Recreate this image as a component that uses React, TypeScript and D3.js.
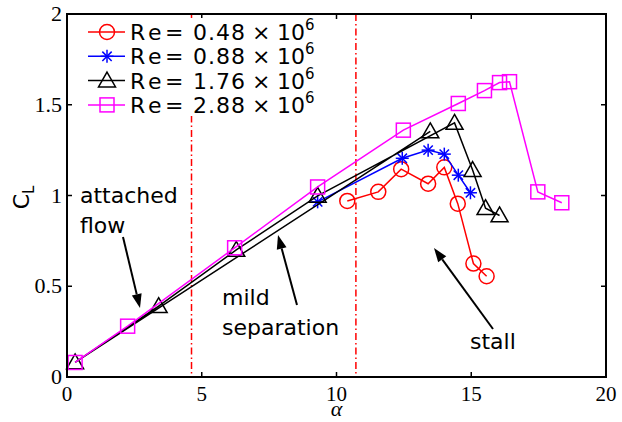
import React from "react";
import * as d3 from "d3";

// angle of attack (deg) and lift coefficient for each Reynolds number
const alphaRe048 = [10.4, 11.55, 12.4, 13.4, 14.0, 14.5, 15.08, 15.57];
const clRe048 = [0.97, 1.02, 1.145, 1.065, 1.155, 0.955, 0.625, 0.555];

const alphaRe088 = [9.3, 12.44, 13.4, 14.0, 14.52, 14.97];
const clRe088 = [0.965, 1.205, 1.25, 1.228, 1.112, 1.015];

// order as plotted (the first segment makes the lower straight line)
const alphaRe176 = [13.48, 0.3, 3.4, 6.28, 9.3, 14.38, 15.05, 15.53, 16.05];
const clRe176 = [1.353, 0.08, 0.39, 0.7, 0.998, 1.4, 1.14, 0.93, 0.89];

const alphaRe288 = [0.3, 2.25, 6.22, 9.3, 12.48, 14.52, 15.49, 16.05, 16.42, 17.47, 18.36];
const clRe288 = [0.08, 0.28, 0.712, 1.047, 1.36, 1.507, 1.578, 1.622, 1.627, 1.02, 0.96];

const reLabels = ["0.48", "0.88", "1.76", "2.88"];
const regimeBounds = [4.62, 10.72];
const xTicks = [0, 5, 10, 15, 20];
const yTicks = [0, 0.5, 1, 1.5, 2];
const yTickLabels = ["0", "0.5", "1", "1.5", "2"];

const W = 622;
const H = 422;
const margin = { top: 14, right: 16, bottom: 45, left: 67 };

const x = d3.scaleLinear().domain([0, 20]).range([margin.left, W - margin.right]);
const y = d3.scaleLinear().domain([0, 2]).range([H - margin.bottom, margin.top]);

const serif = "Liberation Serif, DejaVu Serif, serif";
const sans = "DejaVu Sans, sans-serif";

type Kind = "circle" | "star" | "tri" | "square";

const Marker: React.FC<{ kind: Kind; cx: number; cy: number; color: string }> = ({ kind, cx, cy, color }) => {
  const sw = 1.5;
  if (kind === "circle") return <circle cx={cx} cy={cy} r={7.5} fill="none" stroke={color} strokeWidth={sw} />;
  if (kind === "square")
    return <rect x={cx - 7} y={cy - 7} width={14} height={14} fill="none" stroke={color} strokeWidth={sw} />;
  if (kind === "tri") {
    const s = 8.5;
    const p = `${cx},${cy - s} ${cx + s},${cy + s * 0.75} ${cx - s},${cy + s * 0.75}`;
    return <polygon points={p} fill="none" stroke={color} strokeWidth={sw} />;
  }
  const r = 6.5;
  const d = r * 0.72;
  return (
    <g stroke={color} strokeWidth={sw}>
      <line x1={cx - r} y1={cy} x2={cx + r} y2={cy} />
      <line x1={cx} y1={cy - r} x2={cx} y2={cy + r} />
      <line x1={cx - d} y1={cy - d} x2={cx + d} y2={cy + d} />
      <line x1={cx - d} y1={cy + d} x2={cx + d} y2={cy - d} />
    </g>
  );
};

const series = [
  { a: alphaRe048, c: clRe048, color: "#ff0000", kind: "circle" as Kind },
  { a: alphaRe088, c: clRe088, color: "#0000ff", kind: "star" as Kind },
  { a: alphaRe176, c: clRe176, color: "#000000", kind: "tri" as Kind },
  { a: alphaRe288, c: clRe288, color: "#ff00ff", kind: "square" as Kind },
];

const line = d3
  .line<[number, number]>()
  .x((d) => x(d[0]))
  .y((d) => y(d[1]));

const Arrow: React.FC<{ x1: number; y1: number; x2: number; y2: number }> = ({ x1, y1, x2, y2 }) => {
  const ang = Math.atan2(y2 - y1, x2 - x1);
  const L = 14;
  const hw = 5;
  const bx = x2 - L * Math.cos(ang);
  const by = y2 - L * Math.sin(ang);
  const px = -Math.sin(ang) * hw;
  const py = Math.cos(ang) * hw;
  return (
    <g>
      <line x1={x1} y1={y1} x2={bx} y2={by} stroke="#000" strokeWidth={2} />
      <polygon points={`${x2},${y2} ${bx + px},${by + py} ${bx - px},${by - py}`} fill="#000" />
    </g>
  );
};

export default function App() {
  const x0 = margin.left;
  const x1 = W - margin.right;
  const y0 = H - margin.bottom;
  const y1 = margin.top;
  const tk = 5;
  return (
    <svg width={W} height={H} style={{ position: "absolute", left: 0, top: 0, background: "#fff" }}>
      <rect x={0} y={0} width={W} height={H} fill="#fff" />

      {/* regime boundaries */}
      {regimeBounds.map((b) => (
        <line key={b} x1={x(b)} x2={x(b)} y1={y1} y2={y0} stroke="#ff0000" strokeWidth={1.5} strokeDasharray="7,3,1.5,3" />
      ))}

      {/* data */}
      {series.map((s, i) => {
        const pts = s.a.map((a, j) => [a, s.c[j]] as [number, number]);
        return (
          <g key={i}>
            <path d={line(pts) || ""} fill="none" stroke={s.color} strokeWidth={1.5} />
            {pts.map((p, j) => (
              <Marker key={j} kind={s.kind} cx={x(p[0])} cy={y(p[1])} color={s.color} />
            ))}
          </g>
        );
      })}

      {/* axes box and ticks */}
      <rect x={x0} y={y1} width={x1 - x0} height={y0 - y1} fill="none" stroke="#000" strokeWidth={2} />
      {xTicks.map((t) => (
        <g key={"x" + t}>
          <line x1={x(t)} x2={x(t)} y1={y0} y2={y0 - tk} stroke="#000" strokeWidth={1.5} />
          <line x1={x(t)} x2={x(t)} y1={y1} y2={y1 + tk} stroke="#000" strokeWidth={1.5} />
          <text x={x(t)} y={y0 + 24} fontFamily={serif} fontSize={21} textAnchor="middle">
            {t}
          </text>
        </g>
      ))}
      {yTicks.map((t, i) => (
        <g key={"y" + t}>
          <line x1={x0} x2={x0 + tk} y1={y(t)} y2={y(t)} stroke="#000" strokeWidth={1.5} />
          <line x1={x1} x2={x1 - tk} y1={y(t)} y2={y(t)} stroke="#000" strokeWidth={1.5} />
          <text x={x0 - 5} y={y(t) + 7} fontFamily={serif} fontSize={22} textAnchor="end">
            {yTickLabels[i]}
          </text>
        </g>
      ))}

      {/* axis labels */}
      <text x={(x0 + x1) / 2} y={416} fontFamily={serif} fontStyle="italic" fontSize={22} textAnchor="middle">
        α
      </text>
      <g transform={`translate(29, ${(y0 + y1) / 2 + 2}) rotate(-90)`}>
        <text fontFamily={sans} fontSize={22} textAnchor="middle">
          C<tspan fontSize={15} dy={5}>L</tspan>
        </text>
      </g>

      {/* legend */}
      <rect x={78} y={18} width={240} height={98} fill="#fff" />
      {series.map((s, i) => {
        const ly = 32 + i * 24.3;
        return (
          <g key={"lg" + i}>
            <line x1={88} x2={125} y1={ly} y2={ly} stroke={s.color} strokeWidth={1.5} />
            <Marker kind={s.kind} cx={107} cy={ly} color={s.color} />
            <text y={ly + 8} fontFamily={sans} fontSize={22} fill="#000">
              <tspan x={130}>R</tspan>
              <tspan x={148}>e</tspan>
              <tspan x={165}>=</tspan>
              <tspan x={193} letterSpacing={1}>{reLabels[i]}</tspan>
              <tspan x={252}>×</tspan>
              <tspan x={277}>10</tspan>
              <tspan fontSize={15} dy={-10}>6</tspan>
            </text>
          </g>
        );
      })}

      {/* annotations */}
      <text x={80} y={203} fontFamily={sans} fontSize={22}>attached</text>
      <text x={80} y={233} fontFamily={sans} fontSize={22}>flow</text>
      <Arrow x1={123} y1={237} x2={140} y2={308} />
      <text x={222} y={305} fontFamily={sans} fontSize={22}>mild</text>
      <text x={222} y={335} fontFamily={sans} fontSize={22}>separation</text>
      <Arrow x1={297} y1={305} x2={278} y2={235} />
      <text x={470} y={349} fontFamily={sans} fontSize={22}>stall</text>
      <Arrow x1={493} y1={329} x2={434} y2={248} />
    </svg>
  );
}
